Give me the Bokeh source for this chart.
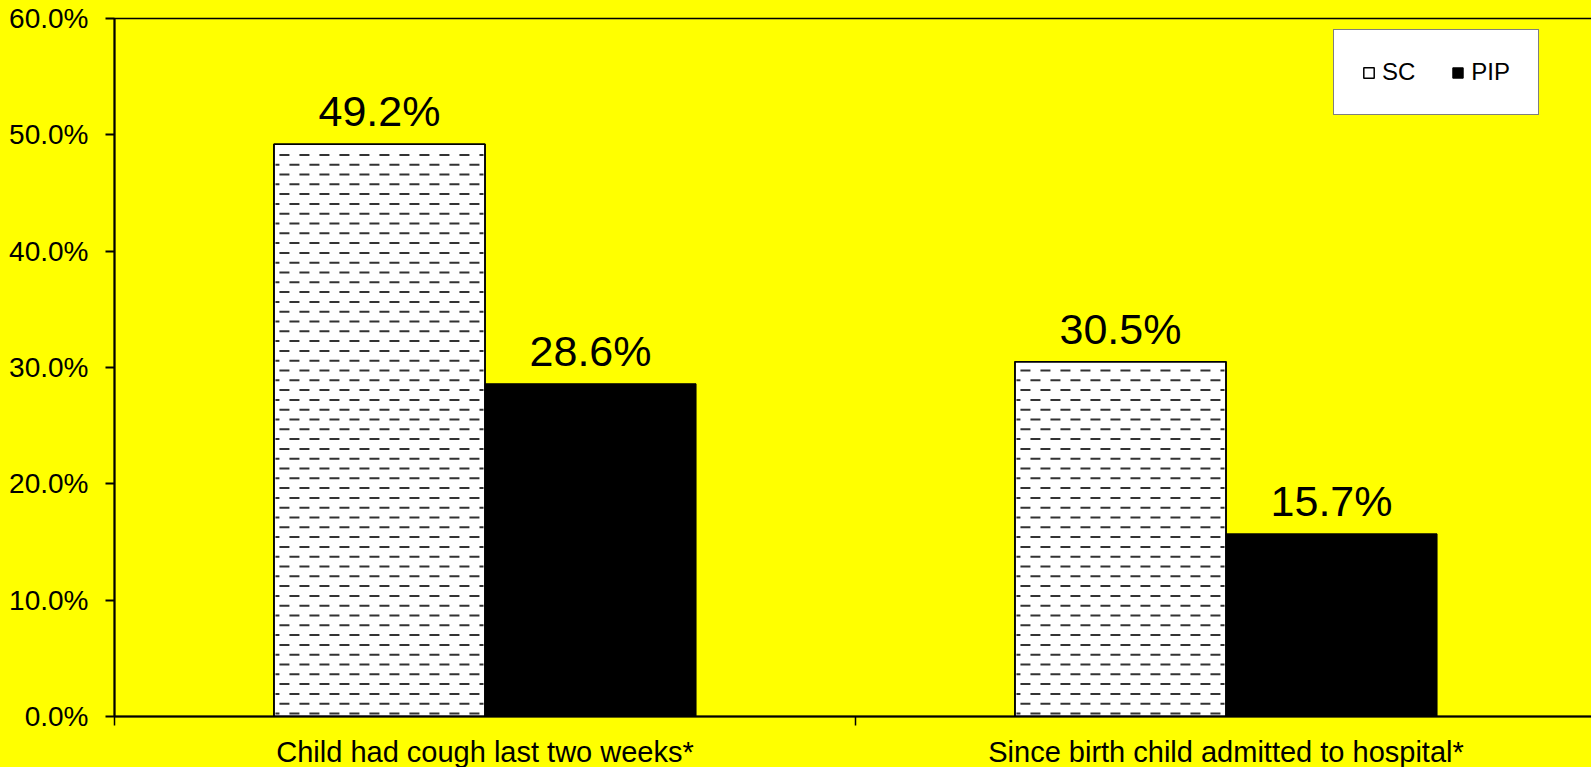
from bokeh.plotting import figure
from bokeh.models import (ColumnDataSource, Range1d, FixedTicker, NumeralTickFormatter,
                          Legend, LegendItem)
from bokeh.transform import dodge
from bokeh.core.properties import value
from bokeh.embed import file_html
from bokeh.resources import INLINE

categories = ["Child had cough last two weeks*", "Since birth child admitted to hospital*"]
series_names = ["SC", "PIP"]
sc_values = [0.492, 0.305]
pip_values = [0.286, 0.157]
y_ticks = [0.0, 0.1, 0.2, 0.3, 0.4, 0.5, 0.6]

FONT = "Liberation Sans"
YELLOW = "#ffff00"

xs = [i + 0.5 for i in range(len(categories))]
source = ColumnDataSource(dict(
    x=xs,
    sc=sc_values,
    pip=pip_values,
    sc_lbl=[f"{v*100:.1f}%" for v in sc_values],
    pip_lbl=[f"{v*100:.1f}%" for v in pip_values],
))

W, H = 1600, 772
left, top, bottom = 114, 18, 56
px_per_cat = 741.0
x_end = (W - left) / px_per_cat
y_max = 0.6

p = figure(width=W, height=H, output_backend="svg", toolbar_location=None,
           x_range=Range1d(0, x_end), y_range=Range1d(0, y_max),
           min_border_left=left, min_border_right=0, min_border_top=top,
           min_border_bottom=bottom)
p.background_fill_color = YELLOW
p.border_fill_color = YELLOW
p.outline_line_color = "black"
p.outline_line_width = 1.5
p.grid.visible = False

bw = 0.2848
off = bw / 2
r_sc = p.vbar(x=dodge("x", -off), top="sc", width=bw, source=source,
              fill_color="white", line_color="black", line_width=1.5)
r_pip = p.vbar(x=dodge("x", off), top="pip", width=bw, source=source,
               fill_color="black", line_color="black", line_width=1)

# staggered dash fill of the SC bars (rows of dashes, derived from the bar extents)
dpx = y_max / (H - top - bottom)          # data units per screen pixel (vertical)
step = 9.8 * dpx
rows = {0: dict(x0=[], x1=[], y=[]), 1: dict(x0=[], x1=[], y=[])}
for xc, v in zip(xs, sc_values):
    bx0, bx1 = xc - off - bw / 2, xc - off + bw / 2
    k = 0
    y = 3 * dpx
    while y < v - 6 * dpx:
        r = rows[k % 2]
        r["x0"].append(bx0 + 0.002)
        r["x1"].append(bx1 - 0.002)
        r["y"].append(y)
        k += 1
        y += step
for parity, dash_off in ((0, 6), (1, 16)):
    p.segment(x0="x0", y0="y", x1="x1", y1="y", source=ColumnDataSource(rows[parity]),
              line_color="#333333", line_width=2, line_dash="10 10",
              line_dash_offset=dash_off, line_cap="butt")
# redraw SC outline above the dashes
p.vbar(x=dodge("x", -off), top="sc", width=bw, source=source,
       fill_color=None, line_color="black", line_width=1.5)

for col, lbl, dx in (("sc", "sc_lbl", -off), ("pip", "pip_lbl", off)):
    p.text(x=dodge("x", dx), y=col, text=lbl, source=source,
           text_align="center", text_baseline="bottom", y_offset=-9,
           text_font=value(FONT), text_font_size="43px", text_color="black")

# y axis
ya = p.yaxis[0]
ya.ticker = FixedTicker(ticks=y_ticks)
ya.formatter = NumeralTickFormatter(format="0.0%")
ya.major_label_text_font = FONT
ya.major_label_text_font_size = "28px"
ya.major_label_text_color = "black"
ya.major_label_standoff = 17
ya.major_tick_out = 9
ya.major_tick_in = 0
ya.minor_tick_line_color = None
ya.axis_line_width = 2
ya.major_tick_line_width = 2

# x axis
xa = p.xaxis[0]
xa.ticker = FixedTicker(ticks=xs, minor_ticks=[float(i) for i in range(len(categories) + 1)])
xa.major_label_overrides = {x: c for x, c in zip(xs, categories)}
xa.major_label_text_font = FONT
xa.major_label_text_font_size = "29px"
xa.major_label_text_color = "black"
xa.major_label_standoff = 10
xa.major_tick_line_color = None
xa.major_tick_out = 9
xa.major_tick_in = 0
xa.minor_tick_out = 9
xa.minor_tick_in = 0
xa.minor_tick_line_width = 1.5
xa.axis_line_width = 2

legend = Legend(items=[LegendItem(label=series_names[0], renderers=[r_sc]),
                       LegendItem(label=series_names[1], renderers=[r_pip])],
                orientation="horizontal", location=(1219, 601))
legend.label_text_font = FONT
legend.label_text_font_size = "24px"
legend.label_text_color = "black"
legend.glyph_width = 13
legend.glyph_height = 13
legend.label_standoff = 7
legend.spacing = 36
legend.padding = 28
legend.margin = 0
legend.border_line_color = "black"
legend.border_line_width = 1.5
legend.background_fill_color = "white"
legend.background_fill_alpha = 1
p.add_layout(legend)

html = file_html(p, INLINE)
html = html.replace("</head>", "<style>html,body{margin:0;padding:0;overflow:hidden;background:#ffff00;}</style></head>", 1)
open("out.html", "w").write(html)
